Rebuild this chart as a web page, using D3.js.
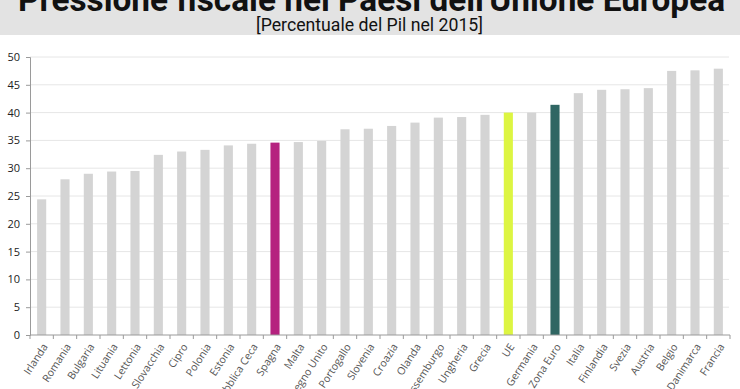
<!DOCTYPE html>
<html><head><meta charset="utf-8">
<script src="https://cdn.jsdelivr.net/npm/d3@7"></script>
<style>
html,body{margin:0;padding:0;background:#fff;overflow:hidden}
svg{display:block}
</style></head>
<body>
<script>
const categories = ["Irlanda","Romania","Bulgaria","Lituania","Lettonia","Slovacchia","Cipro","Polonia","Estonia","Repubblica Ceca","Spagna","Malta","Regno Unito","Portogallo","Slovenia","Croazia","Olanda","Lussemburgo","Ungheria","Grecia","UE","Germania","Zona Euro","Italia","Finlandia","Svezia","Austria","Belgio","Danimarca","Francia"];
const values = [24.4,28.0,29.0,29.4,29.5,32.4,33.0,33.3,34.1,34.4,34.6,34.7,34.9,37.0,37.1,37.6,38.2,39.1,39.2,39.6,40.0,40.0,41.4,43.5,44.1,44.2,44.4,47.5,47.6,47.9];
const highlight = {"Spagna":"#b5227f","UE":"#ddf542","Zona Euro":"#2f6663"};
const yTicks = [0,5,10,15,20,25,30,35,40,45,50];
const title = "Pressione fiscale nei Paesi dell'Unione Europea";
const subtitle = "[Percentuale del Pil nel 2015]";

const W = 740, H = 389;
const svg = d3.select("body").append("svg").attr("width", W).attr("height", H);

svg.append("rect").attr("x",0).attr("y",0).attr("width",W).attr("height",35).attr("fill","#e3e3e3");
svg.append("text").attr("x",18).attr("y",11)
  .attr("font-family","'Roboto','Liberation Sans',sans-serif")
  .attr("font-size",33).attr("font-weight","bold").attr("fill","#111")
  .attr("textLength",707).attr("lengthAdjust","spacingAndGlyphs").text(title);
svg.append("text").attr("x",256).attr("y",30.5)
  .attr("font-family","'Roboto','Liberation Sans',sans-serif")
  .attr("font-size",18).attr("fill","#111")
  .attr("textLength",227).attr("lengthAdjust","spacingAndGlyphs").text(subtitle);

const x0 = 30, x1 = 730, yTop = 57, yBot = 335;
const x = d3.scaleBand().domain(categories).range([x0, x1]).paddingInner(0.61).paddingOuter(0.305);
const y = d3.scaleLinear().domain([0,50]).range([yBot, yTop]);

// gridlines
svg.append("g").selectAll("line").data(yTicks.filter(d=>d>0)).join("line")
  .attr("x1",x0).attr("x2",x1 - 1).attr("y1",d=>y(d)).attr("y2",d=>y(d))
  .attr("stroke","#e6e6e6").attr("stroke-width",1);

// bars
svg.append("g").selectAll("rect").data(categories).join("rect")
  .attr("x",d=>x(d)).attr("width",x.bandwidth())
  .attr("y",(d,i)=>y(values[i])).attr("height",(d,i)=>yBot - y(values[i]))
  .attr("fill",d=>highlight[d]||"#d4d4d4");

// y axis
const yAxis = d3.axisLeft(y).tickValues(yTicks).tickSize(4).tickPadding(6);
const gy = svg.append("g").attr("transform",`translate(${x0},0)`).call(yAxis);
gy.select(".domain").attr("stroke","#9a9a9a");
gy.selectAll(".tick line").attr("stroke","#9a9a9a");
gy.selectAll("text").attr("font-family","'Open Sans',sans-serif").attr("font-size",11).attr("fill","#222");

// x axis
const step = x.step();
const xAxis = d3.axisBottom(x).tickSize(0).tickSizeOuter(0);
const gx = svg.append("g").attr("transform",`translate(0,${yBot})`).call(xAxis);
gx.select(".domain").attr("stroke","#9a9a9a").attr("d",`M${x0},0H${x1}`);
const bounds = d3.range(categories.length+1).map(i => x0 + i*step);
gx.selectAll(".bt").data(bounds).join("line").attr("class","bt")
  .attr("x1",d=>d).attr("x2",d=>d).attr("y1",0).attr("y2",4).attr("stroke","#9a9a9a");
gx.selectAll(".tick text")
  .attr("font-family","'Open Sans',sans-serif").attr("font-size",10.5).attr("fill","#555")
  .attr("text-anchor","end").attr("dy",0)
  .attr("transform","translate(4,10) rotate(-57)");
</script>
</body></html>
